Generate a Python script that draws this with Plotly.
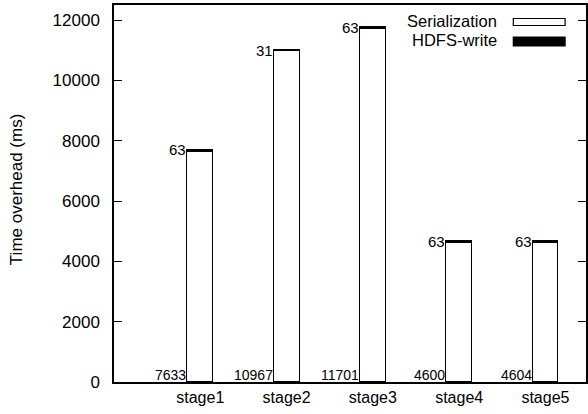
import plotly.graph_objects as go

stages = ["stage1", "stage2", "stage3", "stage4", "stage5"]
serialization = [7633, 10967, 11701, 4600, 4604]
hdfs_write = [63, 31, 63, 63, 63]
y_ticks = [0, 2000, 4000, 6000, 8000, 10000, 12000]
y_tick_labels = ["0", "2000", "4000", "6000", "8000", "10000", "12000"]

W, H = 588, 414
ML, MR, MT, MB = 114, 0, 5, 32
PW, PH = W - ML - MR, H - MT - MB
BAR_W = 0.3
FONT = "Liberation Sans, Arial, Helvetica, sans-serif"

xs = list(range(len(stages)))

def px(x):
    return (x - ML) / PW

def py(y):
    return (H - MB - y) / PH

fig = go.Figure()
fig.add_trace(go.Bar(
    x=xs, y=serialization, name="Serialization", width=BAR_W,
    marker=dict(color="white", line=dict(color="black", width=1.2)),
    showlegend=False, hoverinfo="skip"))
fig.add_trace(go.Bar(
    x=xs, y=hdfs_write, name="HDFS-write", width=BAR_W,
    marker=dict(color="black", line=dict(color="black", width=1.2)),
    showlegend=False, hoverinfo="skip"))

annotations = []
for i, (s, h) in enumerate(zip(serialization, hdfs_write)):
    annotations.append(dict(
        x=xs[i] - BAR_W / 2, y=0, xref="x", yref="y", text=str(s),
        showarrow=False, xanchor="right", yanchor="bottom", yshift=-3, xshift=1,
        font=dict(family=FONT, size=14, color="black")))
    annotations.append(dict(
        x=xs[i] - BAR_W / 2, y=s + h, xref="x", yref="y", text=str(h),
        showarrow=False, xanchor="right", yanchor="middle", yshift=0, xshift=1,
        font=dict(family=FONT, size=15, color="black")))

# y-axis title
annotations.append(dict(
    x=px(16), y=0.51, xref="paper", yref="paper", text="Time overhead (ms)",
    textangle=-90, showarrow=False, xanchor="center", yanchor="middle",
    font=dict(family=FONT, size=17, color="black")))

# legend (text left of swatch, gnuplot style)
legend_items = [("Serialization", "white", 21, 18.5, 25.5),
                ("HDFS-write", "black", 39.5, 37, 46)]
shapes = []
for label, fill, cy, y0, y1 in legend_items:
    annotations.append(dict(
        x=px(501), y=py(cy), xref="paper", yref="paper", text=label,
        showarrow=False, xanchor="right", yanchor="middle",
        font=dict(family=FONT, size=16.5, color="black")))
    shapes.append(dict(
        type="rect", xref="paper", yref="paper",
        x0=px(515), x1=px(567), y0=py(y1), y1=py(y0),
        fillcolor=fill, line=dict(color="black", width=1.2)))

fig.update_layout(
    width=W, height=H,
    margin=dict(l=ML, r=MR, t=MT, b=MB, pad=0),
    paper_bgcolor="white", plot_bgcolor="white",
    barmode="stack", bargap=0,
    font=dict(family=FONT, size=17, color="black"),
    annotations=annotations, shapes=shapes,
    xaxis=dict(
        range=[-1, 4.47], tickvals=xs, ticktext=stages, ticks="",
        showline=True, linecolor="black", linewidth=1.5, mirror=True,
        showgrid=False, zeroline=False,
        tickfont=dict(family=FONT, size=16, color="black")),
    yaxis=dict(
        range=[0, 12500], tickvals=y_ticks, ticktext=y_tick_labels,
        ticks="inside", ticklen=8,
        tickwidth=1.2, tickcolor="black",
        showline=True, linecolor="black", linewidth=1.5, mirror="ticks",
        showgrid=False, zeroline=False, ticklabelstandoff=9,
        tickfont=dict(family=FONT, size=17, color="black")),
)

fig.write_html("out.html")
